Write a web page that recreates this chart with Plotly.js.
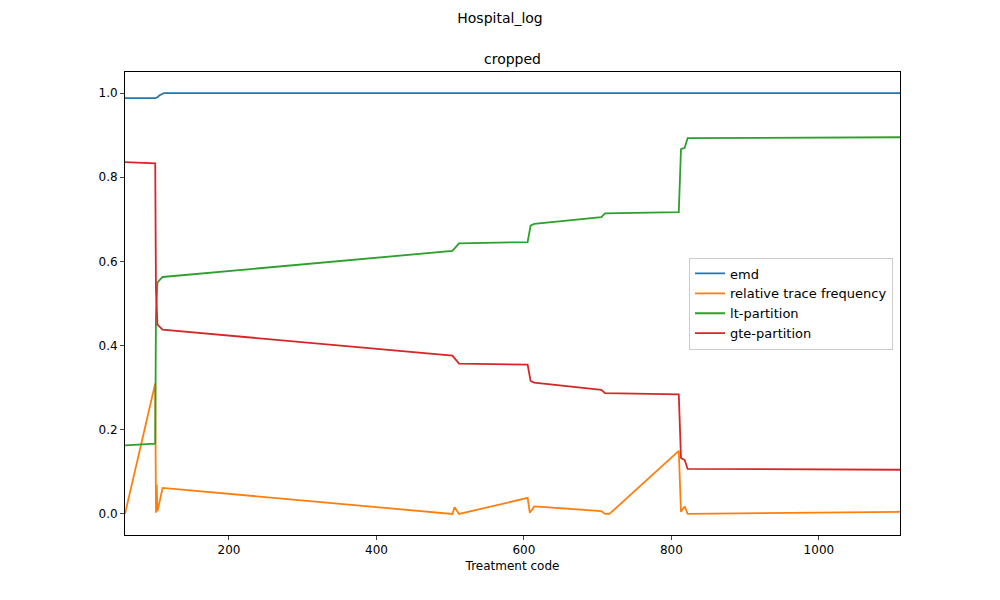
<html><head><script src="https://cdn.plot.ly/plotly-3.0.1.min.js"></script></head><body style="margin:0">
<div id="c" style="width:1000px;height:600px"></div>
<script>
const emdX=[59,100,103,106,112,1110];
const emdY=[0.988,0.988,0.99,0.995,1.0,1.0];
const rtfX=[59,100,101,102,103,110,503,506,512,605,608,614,705,710,716,810,813,818,822,1110];
const rtfY=[0.0,0.31,0.003,0.07,0.006,0.062,0.0,0.016,0.0,0.038,0.003,0.018,0.007,0.0,0.0,0.15,0.005,0.018,0.0,0.005];
const ltX=[59,100,101,103,110,503,512,605,609,614,705,710,810,813,818,822,1110];
const ltY=[0.163,0.167,0.475,0.55,0.563,0.625,0.643,0.646,0.685,0.689,0.705,0.714,0.717,0.867,0.87,0.893,0.895];
const gteX=[59,100,101,103,110,503,512,605,609,614,705,710,810,813,818,822,1110];
const gteY=[0.836,0.833,0.53,0.45,0.438,0.376,0.357,0.355,0.316,0.312,0.295,0.287,0.284,0.133,0.128,0.107,0.105];
const mk=(x,y,n,c)=>({x,y,name:n,mode:'lines',line:{color:c,width:1.8}});
Plotly.newPlot('c',[mk(emdX,emdY,'emd','#1f77b4'),mk(rtfX,rtfY,'relative trace frequency','#ff7f0e'),mk(ltX,ltY,'lt-partition','#2ca02c'),mk(gteX,gteY,'gte-partition','#d62728')],{
width:1000,height:600,paper_bgcolor:'white',plot_bgcolor:'white',
font:{family:'DejaVu Sans',size:12,color:'black'},
margin:{l:125,r:100,t:72,b:65},
title:{text:'Hospital_log',x:0.5,y:0.97,yanchor:'middle',font:{size:14}},
annotations:[{text:'cropped',xref:'paper',yref:'paper',x:0.5,y:1,yanchor:'bottom',yshift:3,showarrow:false,font:{size:14}}],
xaxis:{range:[59,1110],showgrid:false,zeroline:false,showline:true,mirror:true,linecolor:'black',ticks:'outside',ticklen:4,tickvals:[200,400,600,800,1000],title:{text:'Treatment code',standoff:5,font:{size:12}}},
yaxis:{range:[-0.05,1.05],showgrid:false,zeroline:false,showline:true,mirror:true,linecolor:'black',ticks:'outside',ticklen:4,tickvals:[0,0.2,0.4,0.6,0.8,1.0],tickformat:'.1f'},
legend:{x:0.991,xanchor:'right',y:0.5,yanchor:'middle',bordercolor:'#ccc',borderwidth:1,bgcolor:'rgba(255,255,255,0.8)',font:{size:13}}
},{displayModeBar:false});
</script></body></html>
